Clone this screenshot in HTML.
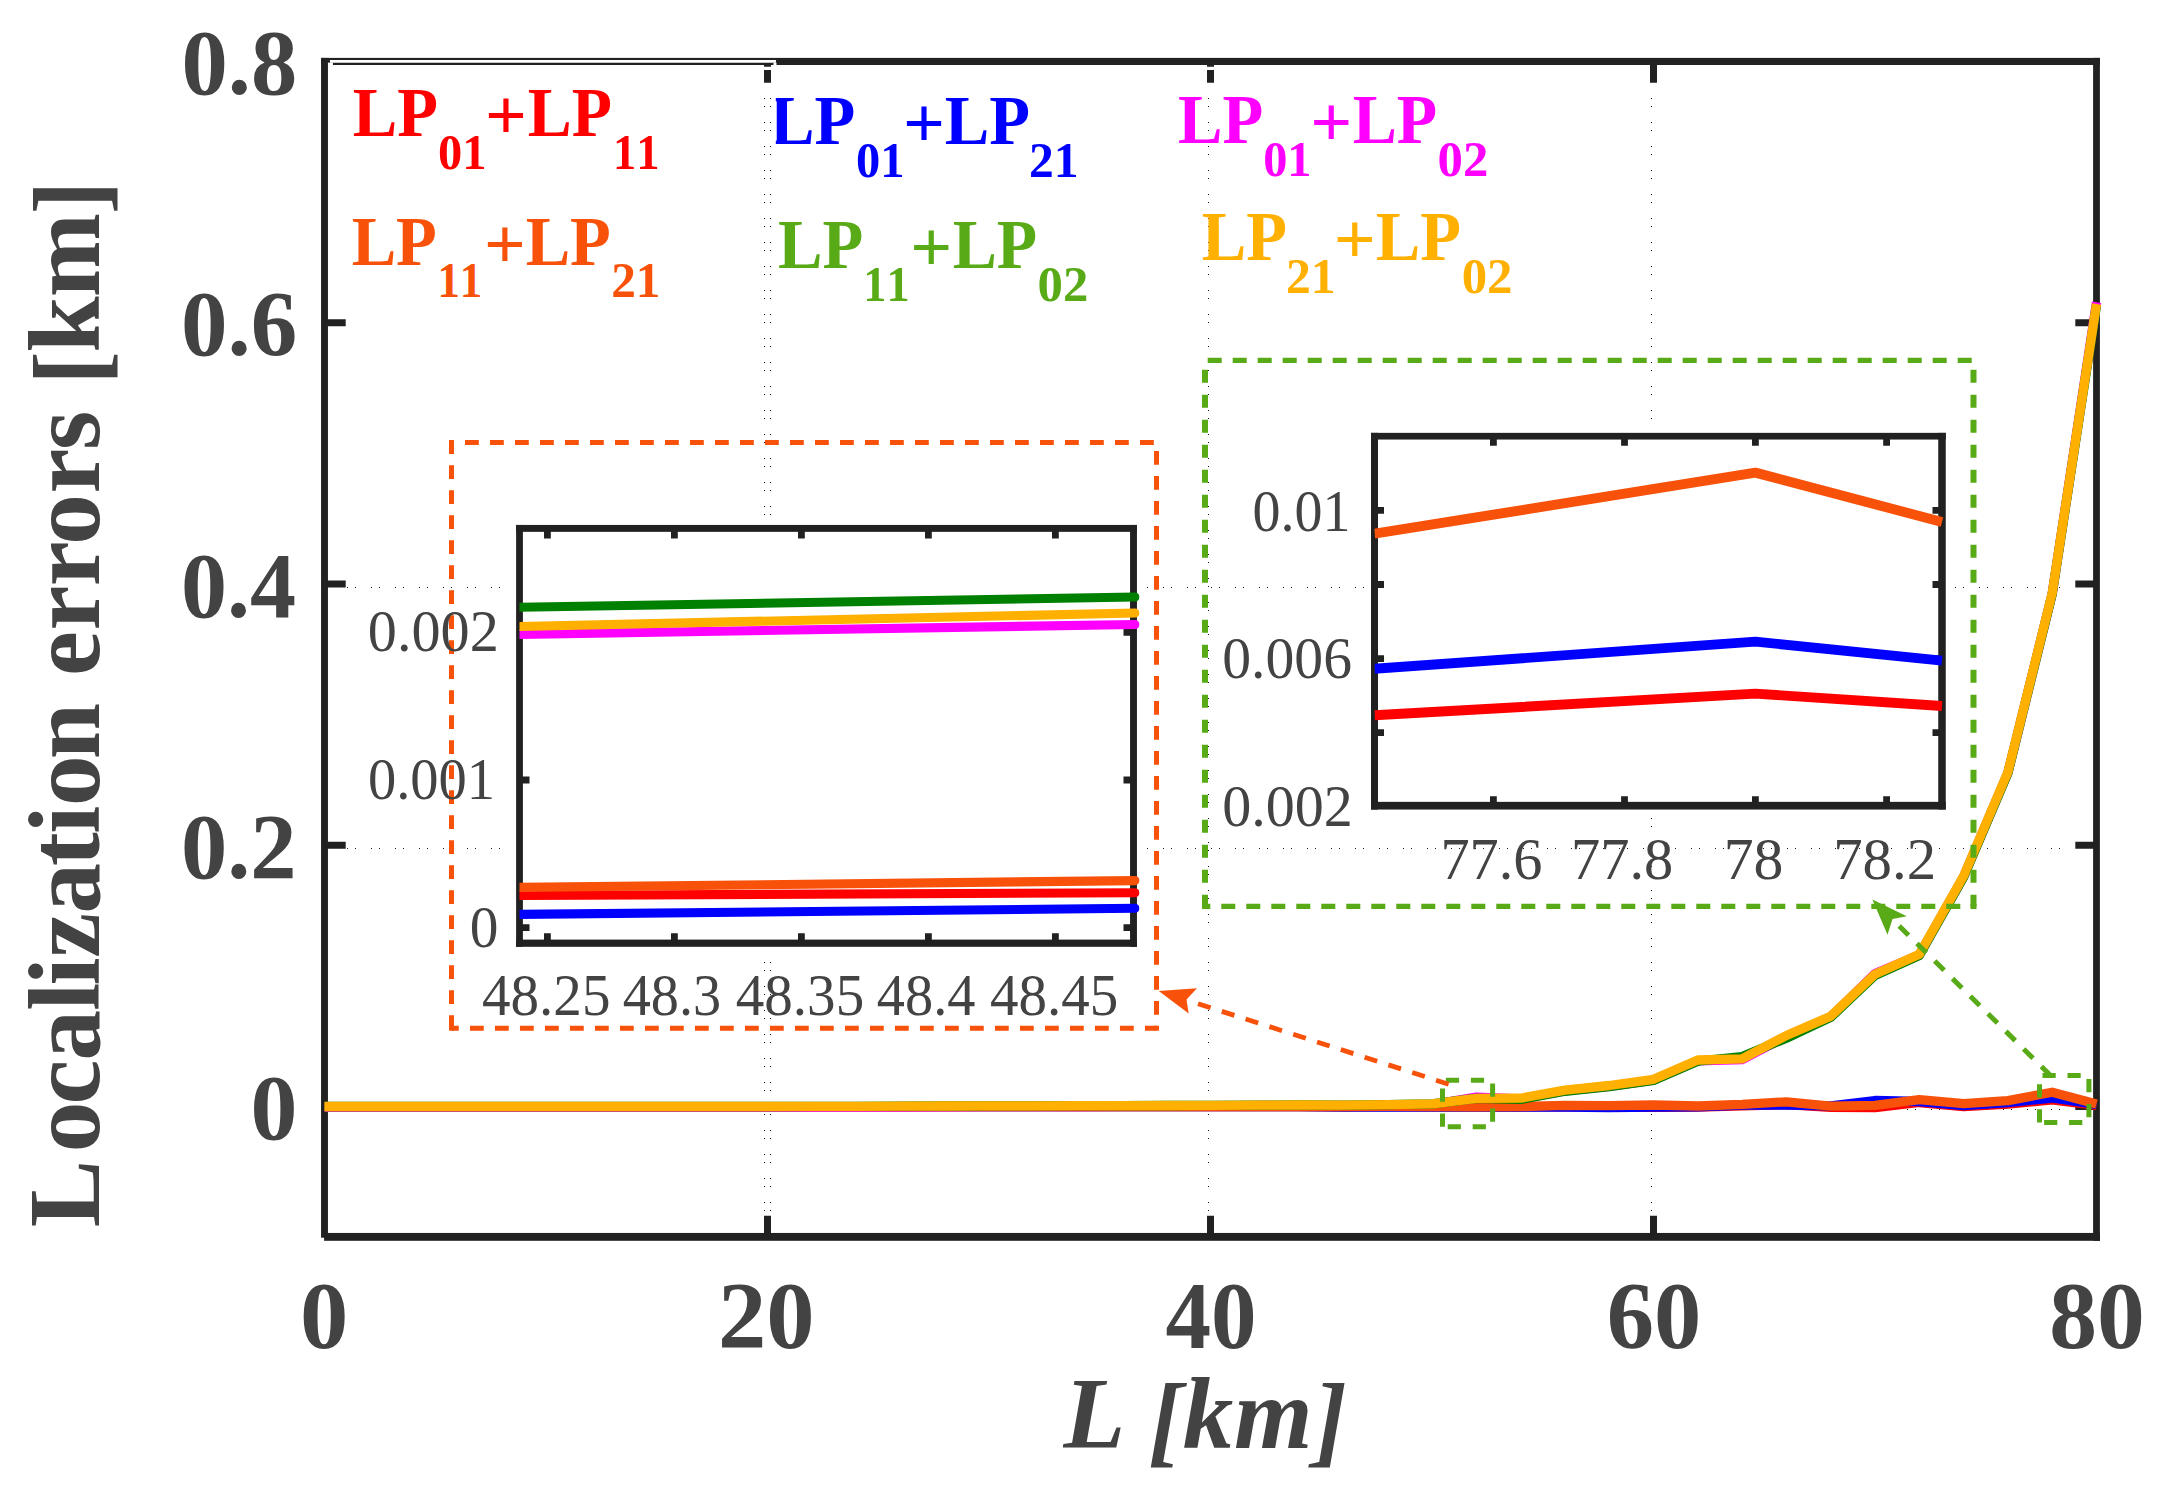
<!DOCTYPE html>
<html lang="en"><head><meta charset="utf-8"><title>Localization errors vs L</title>
<style>html,body{margin:0;padding:0;background:#fff;}body{width:2161px;height:1502px;overflow:hidden;}svg{display:block;}</style>
</head><body>
<svg width="2161" height="1502" viewBox="0 0 2161 1502">
<rect x="0" y="0" width="2161" height="1502" fill="#ffffff"/>
<g stroke="#000" stroke-opacity="0.9" stroke-width="1" shape-rendering="crispEdges" fill="none">
<path d="M764.5 98V1215" stroke-dasharray="1 7 1 15"/>
<path d="M770.5 98V1215" stroke-dasharray="1 7 1 15"/>
<path d="M1208.5 98V1215" stroke-dasharray="1 7 1 15"/>
<path d="M1651.5 98V1215" stroke-dasharray="1 7 1 15"/>
<path d="M347 1109.5H2074" stroke-dasharray="1 7 1 15"/>
<path d="M347 848.2H2074" stroke-dasharray="1 7 1 15"/>
<path d="M347 587.0H2074" stroke-dasharray="1 7 1 15"/>
</g>
<rect x="505" y="523" width="636" height="438" fill="#fff"/>
<g stroke="#212121" stroke-width="7" fill="none" stroke-linecap="butt">
<path d="M767.5 1237.0V1215.8M767.5 61.5V82.7"/>
<path d="M1210.5 1237.0V1215.8M1210.5 61.5V82.7"/>
<path d="M1653.5 1237.0V1215.8M1653.5 61.5V82.7"/>
<path d="M324.5 1106.5H345.7M2096.5 1106.5H2075.3"/>
<path d="M324.5 845.2H345.7M2096.5 845.2H2075.3"/>
<path d="M324.5 584.0H345.7M2096.5 584.0H2075.3"/>
<path d="M324.5 322.8H345.7M2096.5 322.8H2075.3"/>
<g fill="#212121" stroke="none"><rect x="321.05" y="57.9" width="6.9" height="1179.8"/><rect x="324.1" y="1232.95" width="1775.8" height="7.85"/><rect x="2093.1" y="57.9" width="6.8" height="1182.9"/><rect x="321.05" y="57.9" width="1778.85" height="7.1"/></g>
</g>
<g fill="none" stroke-width="9.3" stroke-linejoin="round" stroke-linecap="butt">
<path d="M324.5 1106.6 L368.8 1106.6 L413.1 1106.6 L457.4 1106.6 L501.7 1106.6 L546.0 1106.6 L590.3 1106.6 L634.6 1106.6 L678.9 1106.6 L723.2 1106.6 L767.5 1106.6 L811.8 1106.6 L856.1 1106.6 L900.4 1106.6 L944.7 1106.6 L989.0 1106.6 L1033.3 1106.6 L1077.6 1106.6 L1121.9 1106.6 L1166.2 1106.6 L1210.5 1106.6 L1254.8 1106.6 L1299.1 1106.6 L1343.4 1106.8 L1387.7 1106.6 L1432.0 1106.8 L1476.3 1107.2 L1520.6 1107.0 L1564.9 1106.6 L1609.2 1107.2 L1653.5 1107.4 L1697.8 1107.0 L1742.1 1105.8 L1786.4 1104.6 L1830.7 1107.4 L1875.0 1107.6 L1919.3 1102.5 L1963.6 1106.5 L2007.9 1104.0 L2052.2 1099.9 L2096.5 1105.5" stroke="#FF0000"/>
<path d="M324.5 1106.6 L368.8 1106.6 L413.1 1106.6 L457.4 1106.6 L501.7 1106.6 L546.0 1106.6 L590.3 1106.6 L634.6 1106.6 L678.9 1106.6 L723.2 1106.6 L767.5 1106.6 L811.8 1106.6 L856.1 1106.6 L900.4 1106.6 L944.7 1106.6 L989.0 1106.6 L1033.3 1106.6 L1077.6 1106.6 L1121.9 1106.6 L1166.2 1106.6 L1210.5 1106.6 L1254.8 1106.6 L1299.1 1106.6 L1343.4 1107.0 L1387.7 1107.0 L1432.0 1107.2 L1476.3 1107.0 L1520.6 1107.2 L1564.9 1107.0 L1609.2 1107.6 L1653.5 1107.2 L1697.8 1106.8 L1742.1 1105.0 L1786.4 1105.0 L1830.7 1105.8 L1875.0 1100.5 L1919.3 1101.5 L1963.6 1105.5 L2007.9 1102.5 L2052.2 1098.0 L2096.5 1104.5" stroke="#0000FF"/>
<path d="M324.5 1107.3 L368.8 1107.3 L413.1 1107.3 L457.4 1107.3 L501.7 1107.3 L546.0 1107.3 L590.3 1107.3 L634.6 1107.3 L678.9 1107.3 L723.2 1107.3 L767.5 1107.3 L811.8 1107.2 L856.1 1107.1 L900.4 1107.0 L944.7 1106.8 L989.0 1106.7 L1033.3 1106.6 L1077.6 1106.5 L1121.9 1106.4 L1166.2 1106.3 L1210.5 1106.2 L1254.8 1106.0 L1299.1 1105.8 L1343.4 1106.0 L1387.7 1105.4 L1432.0 1104.6 L1476.3 1097.2 L1520.6 1099.0 L1564.9 1090.9 L1609.2 1086.3 L1653.5 1080.1 L1697.8 1060.8 L1742.1 1059.6 L1786.4 1036.3 L1830.7 1017.0 L1875.0 973.5 L1919.3 955.0 L1963.6 876.8 L2007.9 772.8 L2052.2 593.8 L2096.5 302.2" stroke="#FF00FF"/>
<path d="M324.5 1106.6 L368.8 1106.6 L413.1 1106.6 L457.4 1106.6 L501.7 1106.6 L546.0 1106.6 L590.3 1106.6 L634.6 1106.6 L678.9 1106.6 L723.2 1106.6 L767.5 1106.6 L811.8 1106.6 L856.1 1106.6 L900.4 1106.6 L944.7 1106.6 L989.0 1106.6 L1033.3 1106.6 L1077.6 1106.6 L1121.9 1106.6 L1166.2 1106.6 L1210.5 1106.6 L1254.8 1106.6 L1299.1 1106.6 L1343.4 1106.6 L1387.7 1106.4 L1432.0 1106.6 L1476.3 1106.8 L1520.6 1106.6 L1564.9 1105.4 L1609.2 1105.6 L1653.5 1105.0 L1697.8 1106.0 L1742.1 1104.4 L1786.4 1101.8 L1830.7 1106.2 L1875.0 1105.4 L1919.3 1099.6 L1963.6 1103.7 L2007.9 1100.6 L2052.2 1092.2 L2096.5 1104.0" stroke="#F8520A"/>
<path d="M324.5 1106.5 L368.8 1106.5 L413.1 1106.5 L457.4 1106.5 L501.7 1106.5 L546.0 1106.5 L590.3 1106.5 L634.6 1106.5 L678.9 1106.5 L723.2 1106.5 L767.5 1106.5 L811.8 1106.4 L856.1 1106.3 L900.4 1106.2 L944.7 1106.0 L989.0 1105.9 L1033.3 1105.8 L1077.6 1105.7 L1121.9 1105.6 L1166.2 1105.5 L1210.5 1105.4 L1254.8 1105.2 L1299.1 1105.0 L1343.4 1105.2 L1387.7 1104.6 L1432.0 1103.8 L1476.3 1098.4 L1520.6 1099.4 L1564.9 1091.3 L1609.2 1086.7 L1653.5 1080.5 L1697.8 1061.2 L1742.1 1056.5 L1786.4 1038.2 L1830.7 1017.4 L1875.0 975.4 L1919.3 955.4 L1963.6 877.2 L2007.9 773.2 L2052.2 594.2 L2096.5 305.2" stroke="#008000"/>
<path d="M324.5 1106.5 L368.8 1106.5 L413.1 1106.5 L457.4 1106.5 L501.7 1106.5 L546.0 1106.5 L590.3 1106.5 L634.6 1106.5 L678.9 1106.5 L723.2 1106.5 L767.5 1106.5 L811.8 1106.4 L856.1 1106.3 L900.4 1106.2 L944.7 1106.0 L989.0 1105.9 L1033.3 1105.8 L1077.6 1105.7 L1121.9 1105.6 L1166.2 1105.5 L1210.5 1105.4 L1254.8 1105.2 L1299.1 1105.0 L1343.4 1105.2 L1387.7 1104.6 L1432.0 1103.8 L1476.3 1098.4 L1520.6 1098.2 L1564.9 1090.1 L1609.2 1085.5 L1653.5 1079.3 L1697.8 1060.0 L1742.1 1058.8 L1786.4 1035.5 L1830.7 1016.2 L1875.0 974.2 L1919.3 954.2 L1963.6 876.0 L2007.9 772.0 L2052.2 593.0 L2096.5 304.0" stroke="#FFB000"/>
</g>
<path d="M330 61.3H776" stroke="#fff" stroke-width="2.8" fill="none"/>
<path d="M773.5 63.9H776.5" stroke="#fff" stroke-width="2.4" fill="none"/>
<rect x="327.95" y="62.6" width="5.0" height="2.5" fill="#fff"/>
<path d="M760 68.4H1218" stroke="#fff" stroke-width="3.2" fill="none"/>
<g font-family="'Liberation Serif', 'Times New Roman', serif" fill="#434343" style="font-kerning:none">
<text transform="translate(299.97 1348.36) scale(0.9671 0.9437)" font-size="100" font-weight="bold">0</text>
<text transform="translate(717.89 1348.36) scale(0.9663 0.9437)" font-size="100" font-weight="bold">20</text>
<text transform="translate(1165.46 1348.36) scale(0.9105 0.9437)" font-size="100" font-weight="bold">40</text>
<text transform="translate(1606.69 1348.36) scale(0.9456 0.9437)" font-size="100" font-weight="bold">60</text>
<text transform="translate(2049.19 1348.36) scale(0.9559 0.9437)" font-size="100" font-weight="bold">80</text>
<text transform="translate(181.43 93.79) scale(0.9263 0.9368)" font-size="100" font-weight="bold">0.8</text>
<text transform="translate(180.91 355.49) scale(0.9302 0.9382)" font-size="100" font-weight="bold">0.6</text>
<text transform="translate(180.95 617.19) scale(0.9205 0.9382)" font-size="100" font-weight="bold">0.4</text>
<text transform="translate(180.93 878.39) scale(0.9256 0.9382)" font-size="100" font-weight="bold">0.2</text>
<text transform="translate(250.48 1138.77) scale(0.9388 0.9289)" font-size="100" font-weight="bold">0</text>
</g>
<text font-family="'Liberation Serif', 'Times New Roman', serif" font-weight="bold" font-style="italic" font-size="101" fill="#434343" x="1063.5" y="1448.2" letter-spacing="0.8">L <tspan dy="6">[</tspan><tspan dy="-6">km</tspan><tspan dy="6">]</tspan></text>
<text font-family="'Liberation Serif', 'Times New Roman', serif" font-weight="bold" font-size="101" fill="#434343" transform="translate(98.8 1227.2) rotate(-90)" letter-spacing="-0.6" dx="0 8.2 -2.3 0 -0.3 -2.3 0.5 -0.2 -2.2 -1.0 0.4 -3.2 0 3.1 1.2 -0.1 -0.9 1.5 -0.7 0 1.9 -1.0 -0.3 -0.6" dy="0 0 0 0 0 0 0 0 0 0 0 0 0 0 0 0 0 0 0 0 5.5 -5.5 0 5.5">Localization errors [km]</text>
<g font-family="'Liberation Serif', 'Times New Roman', serif" fill="#FF0000" style="font-kerning:none"><text transform="translate(352.73 136.00) scale(0.6669 0.6885)" font-size="100" font-weight="bold">LP</text><text transform="translate(437.98 168.60) scale(0.4846 0.5000)" font-size="100" font-weight="bold">01</text><text transform="translate(485.04 139.07) scale(0.7355 0.7269)" font-size="100" font-weight="bold">+</text><text transform="translate(527.75 136.00) scale(0.6588 0.6885)" font-size="100" font-weight="bold">LP</text><text transform="translate(612.98 168.60) scale(0.4646 0.5000)" font-size="100" font-weight="bold">11</text></g>
<g font-family="'Liberation Serif', 'Times New Roman', serif" fill="#0000FF" style="font-kerning:none"><text transform="translate(769.93 143.90) scale(0.6677 0.6885)" font-size="100" font-weight="bold">LP</text><text transform="translate(855.98 176.50) scale(0.4857 0.5000)" font-size="100" font-weight="bold">01</text><text transform="translate(903.03 146.97) scale(0.7376 0.7269)" font-size="100" font-weight="bold">+</text><text transform="translate(944.83 143.90) scale(0.6677 0.6885)" font-size="100" font-weight="bold">LP</text><text transform="translate(1028.99 176.50) scale(0.4961 0.5000)" font-size="100" font-weight="bold">21</text></g>
<rect x="771.0" y="96" width="4.8" height="52" fill="#fff"/>
<g font-family="'Liberation Serif', 'Times New Roman', serif" fill="#FF00FF" style="font-kerning:none"><text transform="translate(1177.93 143.10) scale(0.6669 0.6885)" font-size="100" font-weight="bold">LP</text><text transform="translate(1263.19 175.70) scale(0.4835 0.5000)" font-size="100" font-weight="bold">01</text><text transform="translate(1310.13 146.17) scale(0.7376 0.7269)" font-size="100" font-weight="bold">+</text><text transform="translate(1352.64 143.10) scale(0.6613 0.6885)" font-size="100" font-weight="bold">LP</text><text transform="translate(1437.60 175.70) scale(0.5076 0.5000)" font-size="100" font-weight="bold">02</text></g>
<g font-family="'Liberation Serif', 'Times New Roman', serif" fill="#F8520A" style="font-kerning:none"><text transform="translate(351.63 265.10) scale(0.6669 0.6885)" font-size="100" font-weight="bold">LP</text><text transform="translate(437.40 296.90) scale(0.4496 0.5000)" font-size="100" font-weight="bold">11</text><text transform="translate(484.05 268.17) scale(0.7333 0.7269)" font-size="100" font-weight="bold">+</text><text transform="translate(525.63 265.10) scale(0.6669 0.6885)" font-size="100" font-weight="bold">LP</text><text transform="translate(611.21 296.90) scale(0.4928 0.5000)" font-size="100" font-weight="bold">21</text></g>
<g font-family="'Liberation Serif', 'Times New Roman', serif" fill="#58AA16" style="font-kerning:none"><text transform="translate(777.93 268.10) scale(0.6669 0.6885)" font-size="100" font-weight="bold">LP</text><text transform="translate(863.29 300.70) scale(0.4634 0.5000)" font-size="100" font-weight="bold">11</text><text transform="translate(910.13 271.17) scale(0.7376 0.7269)" font-size="100" font-weight="bold">+</text><text transform="translate(952.64 268.10) scale(0.6613 0.6885)" font-size="100" font-weight="bold">LP</text><text transform="translate(1037.60 300.70) scale(0.5076 0.5000)" font-size="100" font-weight="bold">02</text></g>
<g font-family="'Liberation Serif', 'Times New Roman', serif" fill="#FFB000" style="font-kerning:none"><text transform="translate(1201.83 260.30) scale(0.6677 0.6885)" font-size="100" font-weight="bold">LP</text><text transform="translate(1285.99 292.90) scale(0.4972 0.5000)" font-size="100" font-weight="bold">21</text><text transform="translate(1333.83 263.37) scale(0.7376 0.7269)" font-size="100" font-weight="bold">+</text><text transform="translate(1375.83 260.30) scale(0.6677 0.6885)" font-size="100" font-weight="bold">LP</text><text transform="translate(1461.69 292.90) scale(0.5087 0.5000)" font-size="100" font-weight="bold">02</text></g>
<g fill="none" stroke="#F8520A">
<path d="M451.5 1028.2L451.5 442.45" stroke-width="5.0" stroke-dasharray="13.8 11.20" stroke-dashoffset="0.75"/>
<rect x="449.00" y="440.00" width="5.0" height="4.9" fill="#F8520A" stroke="none"/>
<path d="M451.5 442.45L1156.5 442.45" stroke-width="4.9" stroke-dasharray="13.8 11.20" stroke-dashoffset="11.50"/>
<path d="M1156.5 442.45L1156.5 1028.2" stroke-width="5.0" stroke-dasharray="13.8 11.20" stroke-dashoffset="16.50"/>
<rect x="1154.00" y="1025.75" width="5.0" height="4.9" fill="#F8520A" stroke="none"/>
<path d="M1156.5 1028.2L451.5 1028.2" stroke-width="4.9" stroke-dasharray="13.8 11.20" stroke-dashoffset="2.25"/>
<rect x="449.00" y="1025.75" width="5.0" height="4.9" fill="#F8520A" stroke="none"/>
</g>
<g fill="none" stroke="#58AA16">
<path d="M1205.0 906.45L1205.0 360.45" stroke-width="6.0" stroke-dasharray="13.0 12.00" stroke-dashoffset="1.30"/>
<path d="M1205.0 360.45L1973.5 360.45" stroke-width="5.2" stroke-dasharray="14.0 11.00" stroke-dashoffset="22.30"/>
<path d="M1973.5 360.45L1973.5 906.45" stroke-width="6.0" stroke-dasharray="13.0 12.00" stroke-dashoffset="15.80"/>
<rect x="1970.50" y="903.85" width="6.0" height="5.2" fill="#58AA16" stroke="none"/>
<path d="M1973.5 906.45L1205.0 906.45" stroke-width="5.2" stroke-dasharray="14.0 11.00" stroke-dashoffset="11.80"/>
<rect x="1202.00" y="903.85" width="6.0" height="5.2" fill="#58AA16" stroke="none"/>
</g>
<g fill="none" stroke="#58AA16">
<path d="M1442.5 1126.8L1442.5 1080.2" stroke-width="5.0" stroke-dasharray="13.2 11.80" stroke-dashoffset="0.00"/>
<path d="M1442.5 1080.2L1492.6 1080.2" stroke-width="5.0" stroke-dasharray="13.2 11.80" stroke-dashoffset="21.60"/>
<path d="M1492.6 1080.2L1492.6 1126.8" stroke-width="5.0" stroke-dasharray="13.2 11.80" stroke-dashoffset="21.70"/>
<path d="M1492.6 1126.8L1442.5 1126.8" stroke-width="5.0" stroke-dasharray="13.2 11.80" stroke-dashoffset="18.30"/>
</g>
<g fill="none" stroke="#58AA16">
<path d="M2039.5 1122.4L2039.5 1075.4" stroke-width="5.0" stroke-dasharray="13.2 11.80" stroke-dashoffset="0.00"/>
<path d="M2039.5 1075.4L2088.9 1075.4" stroke-width="5.0" stroke-dasharray="13.2 11.80" stroke-dashoffset="22.00"/>
<path d="M2088.9 1075.4L2088.9 1122.4" stroke-width="5.0" stroke-dasharray="13.2 11.80" stroke-dashoffset="21.40"/>
<path d="M2088.9 1122.4L2039.5 1122.4" stroke-width="5.0" stroke-dasharray="13.2 11.80" stroke-dashoffset="18.40"/>
</g>
<path d="M1448.6 1084.2L1186.5 1000" fill="none" stroke="#F8520A" stroke-width="4.8" stroke-dasharray="13.2 11.8"/>
<path d="M1158.7 991.1L1197 988.3L1186.5 999.5L1188.7 1013.5Z" fill="#F8520A"/>
<path d="M2050.8 1075.8L1892.5 919.3" fill="none" stroke="#58AA16" stroke-width="5" stroke-dasharray="13.2 11.8"/>
<path d="M1872.4 899.6L1906.8 916.3L1892.5 918.9L1887.5 934.8Z" fill="#58AA16"/>
<rect x="519.5" y="528.4" width="614.0" height="414.80000000000007" fill="#fff"/>
<clipPath id="c519"><rect x="519.5" y="528.4" width="620.0" height="414.80000000000007"/></clipPath>
<g stroke="#212121" stroke-width="6.8" fill="none" stroke-linecap="butt">
<path d="M547.4 943.2V933.2M547.4 528.4V538.4"/>
<path d="M674.4 943.2V933.2M674.4 528.4V538.4"/>
<path d="M801.4 943.2V933.2M801.4 528.4V538.4"/>
<path d="M928.4 943.2V933.2M928.4 528.4V538.4"/>
<path d="M1055.4 943.2V933.2M1055.4 528.4V538.4"/>
<path d="M519.5 927.6H529.5M1133.5 927.6H1123.5"/>
<path d="M519.5 780.0H529.5M1133.5 780.0H1123.5"/>
<path d="M519.5 632.4H529.5M1133.5 632.4H1123.5"/>
</g>
<g fill="#212121" stroke="none"><rect x="516.10" y="524.95" width="6.8" height="421.85"/><rect x="1130.05" y="524.95" width="6.9" height="421.85"/><rect x="516.10" y="524.95" width="620.85" height="6.9"/><rect x="516.10" y="939.60" width="620.85" height="7.2"/></g>
<g fill="none" stroke-width="9.1" stroke-linejoin="round" stroke-linecap="round" clip-path="url(#c519)">
<path d="M519.5 895.5 L1135 892.7" stroke="#FF0000"/>
<path d="M519.5 914.4 L1135 908.3" stroke="#0000FF"/>
<path d="M519.5 634.4 L1135 624.5" stroke="#FF00FF"/>
<path d="M519.5 887.4 L1135 880.6" stroke="#F8520A"/>
<path d="M519.5 607.3 L1135 597.0" stroke="#008000"/>
<path d="M519.5 626.5 L1135 613.0" stroke="#FFB000"/>
</g>
<g font-family="'Liberation Serif', 'Times New Roman', serif" fill="#434343" style="font-kerning:none">
<text transform="translate(481.96 1015.41) scale(0.5712 0.5956)" font-size="100">48.25</text>
<text transform="translate(622.67 1015.41) scale(0.5627 0.5956)" font-size="100">48.3</text>
<text transform="translate(735.76 1015.41) scale(0.5708 0.5956)" font-size="100">48.35</text>
<text transform="translate(876.87 1015.41) scale(0.5633 0.5956)" font-size="100">48.4</text>
<text transform="translate(989.96 1015.41) scale(0.5699 0.5956)" font-size="100">48.45</text>
<text transform="translate(469.85 946.91) scale(0.5741 0.5852)" font-size="100">0</text>
<text transform="translate(367.88 798.72) scale(0.5654 0.5853)" font-size="100">0.001</text>
<text transform="translate(367.82 650.92) scale(0.5822 0.5853)" font-size="100">0.002</text>
</g>
<rect x="1374.5" y="436.2" width="567.5" height="369.50000000000006" fill="#fff"/>
<clipPath id="c1374"><rect x="1374.5" y="436.2" width="569.0" height="369.50000000000006"/></clipPath>
<g stroke="#212121" stroke-width="6.8" fill="none" stroke-linecap="butt">
<path d="M1493.4 805.7V796.2M1493.4 436.2V445.7"/>
<path d="M1624.5 805.7V796.2M1624.5 436.2V445.7"/>
<path d="M1755.4 805.7V796.2M1755.4 436.2V445.7"/>
<path d="M1886.6 805.7V796.2M1886.6 436.2V445.7"/>
<path d="M1374.5 510.3H1384.0M1942.0 510.3H1932.5"/>
<path d="M1374.5 584.5H1384.0M1942.0 584.5H1932.5"/>
<path d="M1374.5 658.7H1384.0M1942.0 658.7H1932.5"/>
<path d="M1374.5 732.7H1384.0M1942.0 732.7H1932.5"/>
</g>
<g fill="#212121" stroke="none"><rect x="1371.00" y="432.85" width="7.0" height="376.70"/><rect x="1938.25" y="432.85" width="7.5" height="376.70"/><rect x="1371.00" y="432.85" width="574.75" height="6.7"/><rect x="1371.00" y="801.85" width="574.75" height="7.7"/></g>
<g fill="none" stroke-width="9.9" stroke-linejoin="round" stroke-linecap="butt" clip-path="url(#c1374)">
<path d="M1374.5 715.3 L1755.4 693.6 L1942 706.0" stroke="#FF0000"/>
<path d="M1374.5 668.8 L1755.4 641.6 L1942 660.6" stroke="#0000FF"/>
<path d="M1374.5 533.7 L1755.4 472.6 L1942 522.0" stroke="#F8520A"/>
</g>
<g font-family="'Liberation Serif', 'Times New Roman', serif" fill="#434343" style="font-kerning:none">
<text transform="translate(1440.41 879.00) scale(0.5837 0.5978)" font-size="100">77.6</text>
<text transform="translate(1571.00 879.01) scale(0.5845 0.5956)" font-size="100">77.8</text>
<text transform="translate(1723.72 879.30) scale(0.5972 0.6000)" font-size="100">78</text>
<text transform="translate(1833.17 879.01) scale(0.5890 0.5956)" font-size="100">78.2</text>
<text transform="translate(1252.50 530.51) scale(0.5604 0.5956)" font-size="100">0.01</text>
<text transform="translate(1222.24 678.41) scale(0.5769 0.5941)" font-size="100">0.006</text>
<text transform="translate(1222.22 825.81) scale(0.5808 0.5956)" font-size="100">0.002</text>
</g>
</svg>
</body></html>
